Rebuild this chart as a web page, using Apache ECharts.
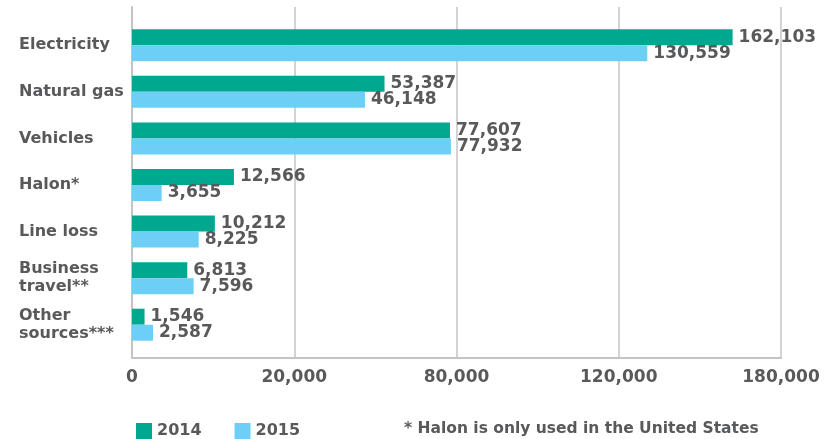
<!DOCTYPE html>
<html><head><meta charset="utf-8">
<script src="https://cdn.jsdelivr.net/npm/echarts@6/dist/echarts.min.js"></script>
<style>html,body{margin:0;padding:0;background:#fff}#c{width:824px;height:439px}</style>
</head><body><div id="c"></div>
<script>
const categories = ['Electricity', 'Natural gas', 'Vehicles', 'Halon*', 'Line loss', 'Business\ntravel**', 'Other\nsources***'];
const values2014 = [162103, 53387, 77607, 12566, 10212, 6813, 1546];
const values2015 = [130559, 46148, 77932, 3655, 8225, 7596, 2587];
const tickValues = [0, 20000, 80000, 120000, 180000];
const tickLabels = ['0', '20,000', '80,000', '120,000', '180,000'];
const seriesNames = ['2014', '2015'];
const footnote = '* Halon is only used in the United States';

const FONT = 'DejaVu Sans';
const TXT = '#58595b';
const fmt = v => String(v).replace(/\B(?=(\d{3})+(?!\d))/g, ',');

// The reference axis is piecewise: equal-width segments between its tick values.
const segGap = tickValues[1] - tickValues[0];
const breaks = [];
for (let i = 1; i < tickValues.length - 1; i++) {
  breaks.push({ start: tickValues[i], end: tickValues[i + 1], gap: segGap });
}

const chart = echarts.init(document.getElementById('c'), null, { renderer: 'canvas' });
const labelStyle = {
  show: true, position: 'right', distance: 6,
  formatter: p => fmt(p.value),
  fontFamily: FONT, fontWeight: 'bold', fontSize: 17, color: TXT
};
chart.setOption({
  animation: false,
  textStyle: { fontFamily: FONT },
  grid: [
    { left: 132, right: 43, top: 22, bottom: 91 },
    { left: 132, right: 43, top: 7, bottom: 81 }
  ],
  xAxis: [
    {
      gridIndex: 0, type: 'value', min: tickValues[0], max: tickValues[tickValues.length - 1],
      breaks: breaks,
      breakArea: { show: false },
      axisLine: { show: false }, axisTick: { show: false },
      axisLabel: { show: false }, splitLine: { show: false }
    },
    {
      gridIndex: 1, type: 'category', data: tickLabels, boundaryGap: false,
      axisLine: { show: true, lineStyle: { color: '#c4c4c4', width: 2 } },
      axisTick: { show: false },
      axisLabel: { fontFamily: FONT, fontWeight: 'bold', fontSize: 17, color: TXT, margin: 11, interval: 0 },
      splitLine: { show: true, lineStyle: { color: '#c4c4c4', width: 1.5 } }
    }
  ],
  yAxis: [
    {
      gridIndex: 0, type: 'category', data: categories, inverse: true,
      axisLine: { show: false }, axisTick: { show: false },
      axisLabel: {
        align: 'left', margin: 113, fontFamily: FONT, fontWeight: 'bold',
        fontSize: 16, lineHeight: 18, color: TXT
      }
    },
    {
      gridIndex: 1, type: 'value', min: 0, max: 1,
      axisLine: { show: true, lineStyle: { color: '#c4c4c4', width: 2 } },
      axisTick: { show: false }, axisLabel: { show: false }, splitLine: { show: false }
    }
  ],
  legend: {
    left: 131, top: 418, itemWidth: 16, itemHeight: 16, itemGap: 33,
    icon: 'rect',
    textStyle: { fontFamily: FONT, fontWeight: 'bold', fontSize: 16, color: TXT },
    data: seriesNames
  },
  graphic: [{
    type: 'text', left: 404, top: 421,
    style: { text: footnote, fontFamily: FONT, fontWeight: 'bold', fontSize: 15.5, fill: TXT }
  }],
  series: [
    {
      name: seriesNames[0], type: 'bar', xAxisIndex: 0, yAxisIndex: 0,
      data: values2014, barWidth: 16, barGap: '0%',
      itemStyle: { color: '#00a88f' }, label: labelStyle
    },
    {
      name: seriesNames[1], type: 'bar', xAxisIndex: 0, yAxisIndex: 0,
      data: values2015, barWidth: 16, barGap: '0%',
      itemStyle: { color: '#6dcff6' }, label: labelStyle
    }
  ]
});
</script></body></html>
